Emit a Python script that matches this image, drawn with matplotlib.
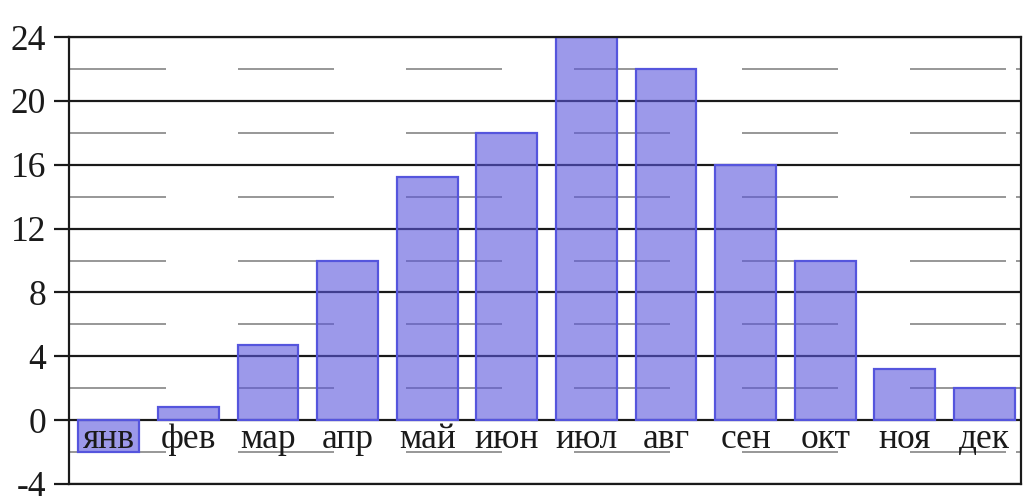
import matplotlib
matplotlib.use('Agg')
import matplotlib.pyplot as plt
import numpy as np

months = ['янв', 'фев', 'мар', 'апр', 'май', 'июн', 'июл', 'авг', 'сен', 'окт', 'ноя', 'дек']
values = [-2, 0.8, 4.7, 10, 15.2, 18, 24, 22, 16, 10, 3.2, 2]
major_ticks = [-4, 0, 4, 8, 12, 16, 20, 24]
minor_ticks = [-2, 2, 6, 10, 14, 18, 22]

plt.rcParams['font.family'] = ['Liberation Serif', 'DejaVu Serif']
plt.rcParams['lines.scale_dashes'] = False

PX = 0.72  # one pixel in points at dpi 100

fig = plt.figure(figsize=(10.28, 5.04), dpi=100)
ax = fig.add_axes([69 / 1028, 1 - 484 / 504, 952 / 1028, 447 / 504])

ax.set_ylim(-4, 24)
ax.set_xlim(-0.5, 11.46)

# grid lines first, bars are see-through on top of them
for y in minor_ticks:
    ax.axhline(y, color='#999999', lw=2 * PX, zorder=1,
               linestyle=(167 * PX, (96 * PX, 72 * PX)))
for y in major_ticks:
    ax.axhline(y, color='#1a1a1a', lw=2.2 * PX, zorder=1)

x = np.arange(len(months))
ax.bar(x, values, width=0.766, color=(90 / 255, 86 / 255, 220 / 255, 0.6),
       edgecolor='#5555dd', linewidth=2.2 * PX, zorder=2)

# month names sit just below the zero line
for i, m in enumerate(months):
    ax.text(i, -0.15, m, ha='center', va='top', fontsize=25.5, color='#1a1a1a',
            zorder=3)

ax.set_xticks([])
ax.set_yticks(major_ticks)
ax.set_yticklabels([str(v) for v in major_ticks])
ax.set_yticks(minor_ticks, minor=True)
ax.tick_params(axis='y', which='major', direction='out', length=15 * PX,
               width=2.2 * PX, color='#1a1a1a', pad=8 * PX, labelsize=25.5,
               labelcolor='#1a1a1a')
ax.tick_params(axis='y', which='minor', direction='in', length=5 * PX,
               width=2 * PX, color='#999999', left=True, right=True)

for s in ax.spines.values():
    s.set_color('#1a1a1a')
    s.set_linewidth(2.2 * PX)
    s.set_zorder(4)

fig.savefig('out.png', dpi=100)
